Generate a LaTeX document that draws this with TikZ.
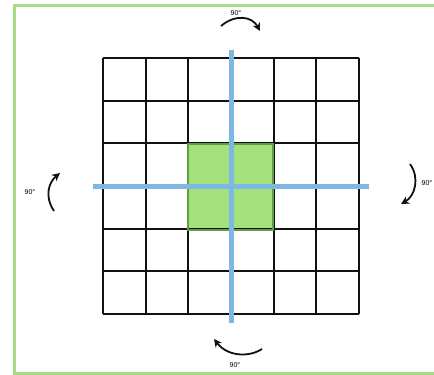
\documentclass[tikz,border=0pt]{standalone}
\usepackage{fontspec}
\setmainfont{Liberation Sans}
\usepackage{tikz}
\usetikzlibrary{arrows.meta,positioning,calc}
\definecolor{ink}{HTML}{111111}
\definecolor{leaf}{HTML}{A4E07C}
\definecolor{leafdark}{HTML}{5F9E45}
\definecolor{frame}{HTML}{A6DC88}
\definecolor{axis}{HTML}{7DB7E2}
\colorlet{arrowink}{ink}

\begin{document}
\begin{tikzpicture}[x=1pt,y=-1pt,font=\fontsize{7}{8}\selectfont,
    turnarrow/.style={draw=arrowink,line width=1.8pt,-{Stealth[length=8pt,width=8pt]}},
    deg/.style={inner sep=0pt}]
    \useasboundingbox (0,0) rectangle (434,375);
    \fill[white] (0,0) rectangle (434,375);
    \draw[frame,line width=3pt] (14,5) rectangle (440,373);
    \fill[leaf] (188,144) rectangle (273,230);
    \foreach \i in {0,...,6}{
      \draw[ink,line width=1.8pt] (103+\i*42.67,58) -- (103+\i*42.67,314);
      \draw[ink,line width=1.8pt] (103,58+\i*42.67) -- (359,58+\i*42.67);}
    \draw[leafdark,line width=1.2pt] (188,144) rectangle (273,230);
    \coordinate (vtop) at (231,50);
    \coordinate (vbot) at (231,323);
    \coordinate (hleft) at (93,186);
    \coordinate (hright) at (369,186);
    \draw[axis,line width=5pt] (vtop) -- (vbot);
    \draw[axis,line width=5pt] (hleft) -- (hright);
    \node[deg] (degtop) at (236,13) {90°};
    \node[deg] (degleft) at (30,192) {90°};
    \node[deg] (degright) at (427,183) {90°};
    \node[deg] (degbot) at (235,365) {90°};
    \draw[turnarrow] (221,26) .. controls (235,14) and (252,16) .. (260,31);
    \draw[turnarrow] (54,211) .. controls (44,196) and (49,182) .. (60,173);
    \draw[turnarrow] (410,164) .. controls (420,178) and (415,196) .. (401,204);
    \draw[turnarrow] (262,349) .. controls (248,358) and (227,356) .. (214,339);
\end{tikzpicture}
\end{document}
